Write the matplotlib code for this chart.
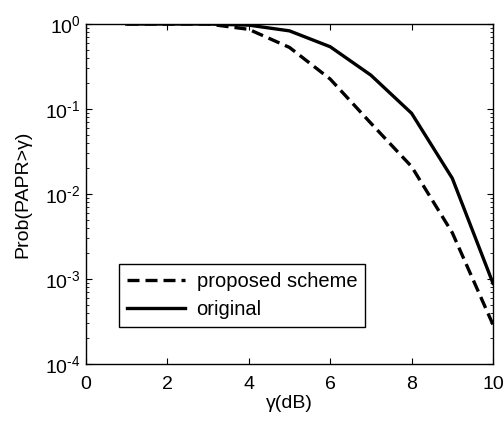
import matplotlib
matplotlib.use("Agg")
import matplotlib.pyplot as plt
from matplotlib.ticker import LogLocator, FixedLocator, FuncFormatter
import math

plt.rcParams['font.family'] = ['Liberation Sans', 'DejaVu Sans']
plt.rcParams['mathtext.fontset'] = 'custom'
plt.rcParams['mathtext.rm'] = 'Liberation Sans'
plt.rcParams['mathtext.it'] = 'Liberation Sans:italic'

gamma_db = [1, 2, 3, 4, 5, 6, 7, 8, 9, 10]
proposed = [1.0, 1.0, 1.0, 0.865, 0.53, 0.225, 0.068, 0.021, 0.0035, 0.00029]
original = [1.0, 1.0, 1.0, 0.97, 0.83, 0.54, 0.25, 0.089, 0.0153, 0.00089]
xticks = [0, 2, 4, 6, 8, 10]

fig = plt.figure(figsize=(5.03, 4.24), dpi=100)
ax = fig.add_axes([86/503, 1 - 364/424, (493-86)/503, (364-24)/424])

ax.plot(gamma_db, proposed, color='k', ls=(0, (3.6, 1.8)), lw=2.4, label='proposed scheme')
ax.plot(gamma_db, original, 'k-', lw=2.4, label='original')
ax.set_yscale('log')
ax.set_xlim(0, 10)
ax.set_ylim(1e-4, 1)
ax.xaxis.set_major_locator(FixedLocator(xticks))
ax.yaxis.set_major_locator(LogLocator(base=10, numticks=10))
ax.yaxis.set_minor_locator(LogLocator(base=10, subs=range(2, 10), numticks=10))


def fmt(v, pos):
    e = int(round(math.log10(v)))
    if e < 0:
        return r'$\mathregular{10^{\text{-}%d}}$' % (-e)
    return r'$\mathregular{10^{%d}}$' % e


ax.yaxis.set_major_formatter(FuncFormatter(fmt))
ax.tick_params(which='both', direction='in', top=True, right=True, labelsize=14)
ax.tick_params(axis='x', which='major', pad=8.5)
ax.tick_params(axis='y', which='major', pad=4)
ax.tick_params(which='major', length=4)
ax.tick_params(which='minor', length=2)
for s in ax.spines.values():
    s.set_linewidth(1)

ax.set_xlabel('γ(dB)', fontsize=14, labelpad=1.5)
ax.set_ylabel('Prob(PAPR>γ)', fontsize=14, labelpad=10)

leg = ax.legend(loc='lower left', bbox_to_anchor=(0.081, 0.109), borderaxespad=0,
                fontsize=14.5, frameon=True, fancybox=False, edgecolor='black',
                framealpha=1, handlelength=2.9, handletextpad=0.55,
                borderpad=0.4, labelspacing=0.45)
leg.get_frame().set_linewidth(1)

fig.savefig('out.png', dpi=100)
